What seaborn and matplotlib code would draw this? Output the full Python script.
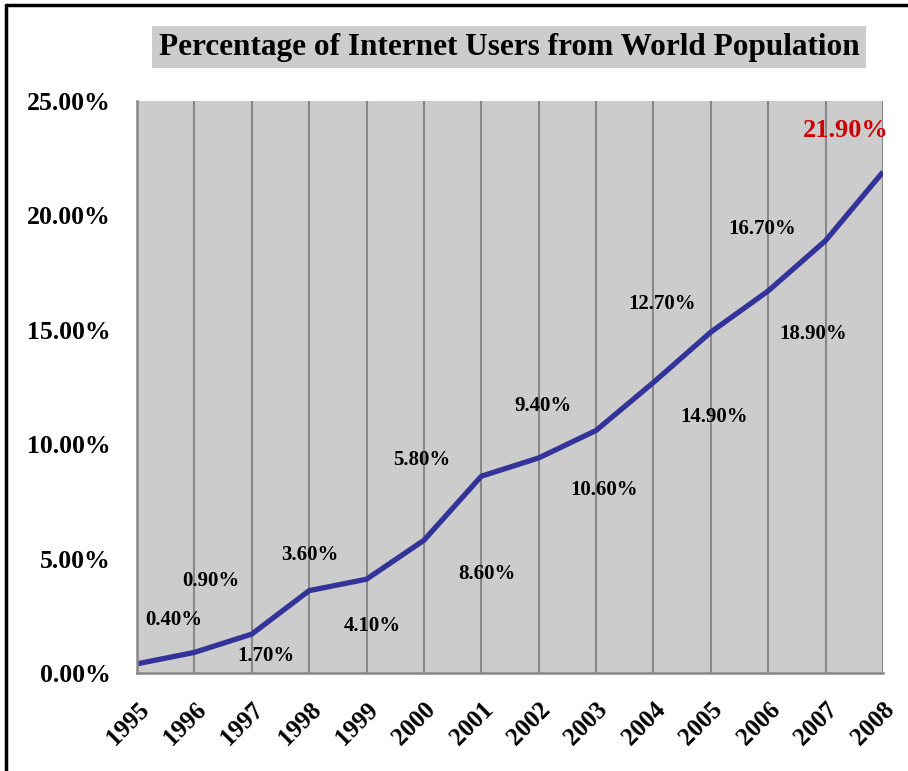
import matplotlib
matplotlib.use("Agg")
import matplotlib.pyplot as plt
import seaborn as sns
import pandas as pd
from matplotlib.lines import Line2D

# dados
anos = [1995, 1996, 1997, 1998, 1999, 2000, 2001, 2002, 2003, 2004, 2005, 2006, 2007, 2008]
usuarios = [0.40, 0.90, 1.70, 3.60, 4.10, 5.80, 8.60, 9.40, 10.60, 12.70, 14.90, 16.70, 18.90, 21.90]
titulo = "Percentage of Internet Users from World Population"

# deslocamento dos rótulos (pixels)
offsets = [(37, 44), (16, 71), (14, -22), (1, 36), (6, -47), (-2, 80), (6, -98),
           (4, 52), (8, -60), (9, 78), (3, -85), (-6, 62), (-12, -93), (-37, 41)]

df = pd.DataFrame({"ano": anos, "pct": usuarios})

sns.set_style("white")
plt.rcParams['font.family'] = ['Liberation Serif', 'DejaVu Serif']
plt.rcParams['text.color'] = 'black'

fig = plt.figure(figsize=(9.08, 7.71), dpi=100)
ax = fig.add_axes([137/908, 1 - 673/771, 746/908, 572/771])
ax.set_facecolor("#cccccc")

sns.lineplot(x="ano", y="pct", data=df, ax=ax, color="#333399", linewidth=3.8,
             solid_capstyle="butt")

ax.set_xlim(1995, 2008)
ax.set_ylim(0, 25)
ax.set_xticks(anos)
ax.set_xticklabels([str(a) for a in anos], rotation=45, ha="right",
                   rotation_mode="anchor", fontsize=18, fontweight="bold")
ax.set_yticks([0, 5, 10, 15, 20, 25])
ax.set_yticklabels([f"{v:.2f}%" for v in [0, 5, 10, 15, 20, 25]],
                   fontsize=18.5, fontweight="bold")
ax.tick_params(axis="both", direction="out", length=8, width=1.5, color="#888888",
               labelcolor="black")
ax.tick_params(axis="y", pad=11)
ax.tick_params(axis="x", pad=10)
ax.set_xlabel("")
ax.set_ylabel("")

for a in anos:
    ax.axvline(a, color="#888888", linewidth=1.5, zorder=0.5)

for s in ["top", "right"]:
    ax.spines[s].set_visible(False)
for s in ["left", "bottom"]:
    ax.spines[s].set_color("#888888")
    ax.spines[s].set_linewidth(1.8)

for i, (a, v) in enumerate(zip(anos, usuarios)):
    dx, dy = offsets[i]
    ultimo = i == len(anos) - 1
    ax.annotate(f"{v:.2f}%", (a, v), xytext=(dx * 0.72, dy * 0.72), textcoords="offset points",
                ha="center", va="center", fontweight="bold",
                fontsize=19 if ultimo else 15,
                color="#cc0000" if ultimo else "black")

fig.text(0.5 * (152 + 866) / 908, 1 - 47/771, titulo, ha="center", va="center",
         fontsize=22.5, fontweight="bold",
         bbox=dict(boxstyle="square,pad=0.22", facecolor="#cccccc", edgecolor="none"))

# borda da figura
fig.add_artist(Line2D([6/908, 6/908], [0, 1 - 5/771], transform=fig.transFigure, color="black", linewidth=2.5))
fig.add_artist(Line2D([6/908, 1], [1 - 5/771, 1 - 5/771], transform=fig.transFigure, color="black", linewidth=2.5))

fig.savefig("out.png", dpi=100)
